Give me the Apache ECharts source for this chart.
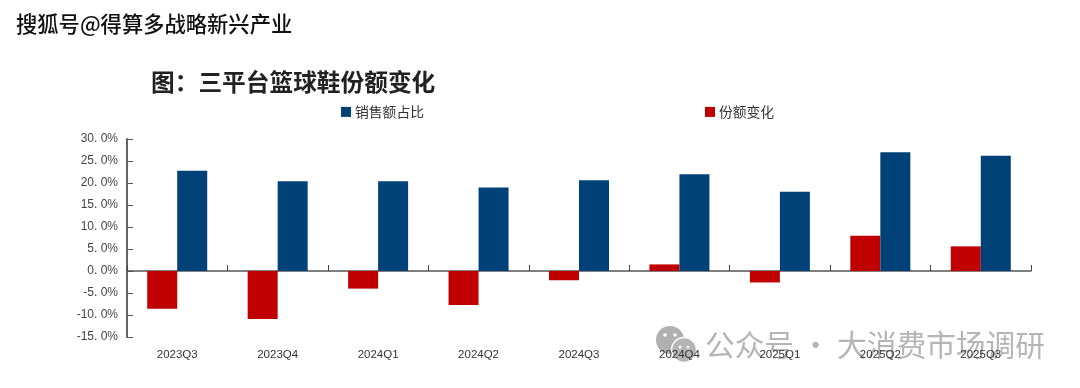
<!DOCTYPE html>
<html><head><meta charset="utf-8">
<style>html,body{margin:0;padding:0;background:#fff}#c{width:1080px;height:388px}</style>
<script src="https://cdn.jsdelivr.net/npm/echarts@6/dist/echarts.min.js"></script>
</head><body><div id="c"></div>
<script>
const categories=['2023Q3','2023Q4','2024Q1','2024Q2','2024Q3','2024Q4','2025Q1','2025Q2','2025Q3'];
const shareValues=[22.8,20.4,20.4,19.0,20.6,22.0,18.0,27.0,26.2];
const changeValues=[-8.6,-10.9,-4.0,-7.7,-2.1,1.5,-2.6,8.0,5.6];
const seriesNames=['销售额占比','份额变化'];
const CJK='"Noto Sans CJK SC","Liberation Sans",sans-serif';
const chart=echarts.init(document.getElementById('c'),null,{renderer:'canvas'});
chart.setOption({
  animation:false,
  backgroundColor:'#fff',
  title:[
    {text:'搜狐号@得算多战略新兴产业',left:11,top:8,textStyle:{fontFamily:CJK,fontSize:21.3,fontWeight:500,color:'#111'}},
    {text:'图：三平台篮球鞋份额变化',left:146,top:65,textStyle:{fontFamily:CJK,fontSize:23.7,fontWeight:'bold',color:'#222'}}
  ],
  legend:{data:[seriesNames[0],seriesNames[1]],left:336,top:100,itemWidth:10,itemHeight:10,itemGap:281,icon:'rect',
    textStyle:{fontFamily:CJK,fontSize:13.8,color:'#333',padding:[0,0,0,-1]}},
  grid:{left:127,right:49,top:139,bottom:51,outerBoundsMode:'none'},
  xAxis:[
    {type:'category',data:categories,
      axisLine:{onZero:true,lineStyle:{color:'#555',width:1.5}},
      axisTick:{show:true,inside:true,length:6,alignWithLabel:false,lineStyle:{color:'#444'}},
      axisLabel:{show:false},splitLine:{show:false}},
    {type:'category',data:categories,position:'bottom',z:60,
      axisLine:{show:false,onZero:false},axisTick:{show:false},
      axisLabel:{interval:0,margin:12,fontFamily:'"Liberation Sans",sans-serif',fontSize:11.5,color:'#333'},
      splitLine:{show:false}}
  ],
  yAxis:{type:'value',min:-15,max:30,interval:5,
    axisLine:{show:true,lineStyle:{color:'#666',width:2}},
    axisTick:{show:true,inside:true,length:6,lineStyle:{color:'#555'}},
    axisLabel:{margin:9,fontFamily:'"Liberation Sans",sans-serif',fontSize:12,color:'#444',
      formatter:v=>v.toFixed(1).replace('.','. ')+'%'},
    splitLine:{show:false}},
  series:[
    {name:seriesNames[1],type:'bar',data:changeValues,barWidth:30,barGap:'0%',itemStyle:{color:'#c00000'}},
    {name:seriesNames[0],type:'bar',data:shareValues,barWidth:30,barGap:'0%',itemStyle:{color:'#004278'}}
  ],
  graphic:[
    {type:'circle',z:1,shape:{cx:670,cy:340,r:14},style:{fill:'#b0b0b0'}},
    {type:'circle',z:2,shape:{cx:684,cy:350,r:12.5},style:{fill:'#b4b4b4',stroke:'#fff',lineWidth:1.5}},
    {type:'circle',z:3,shape:{cx:665,cy:335,r:1.8},style:{fill:'#fff'}},
    {type:'circle',z:3,shape:{cx:675,cy:335,r:1.8},style:{fill:'#fff'}},
    {type:'circle',z:3,shape:{cx:680,cy:347,r:1.5},style:{fill:'#fff'}},
    {type:'circle',z:3,shape:{cx:688,cy:347,r:1.5},style:{fill:'#fff'}},
    {type:'text',z:3,left:705,top:330,style:{text:'公众号 · 大消费市场调研',fontFamily:CJK,fontSize:29.7,fill:'#b5b5b5'}}
  ]
});
</script></body></html>
